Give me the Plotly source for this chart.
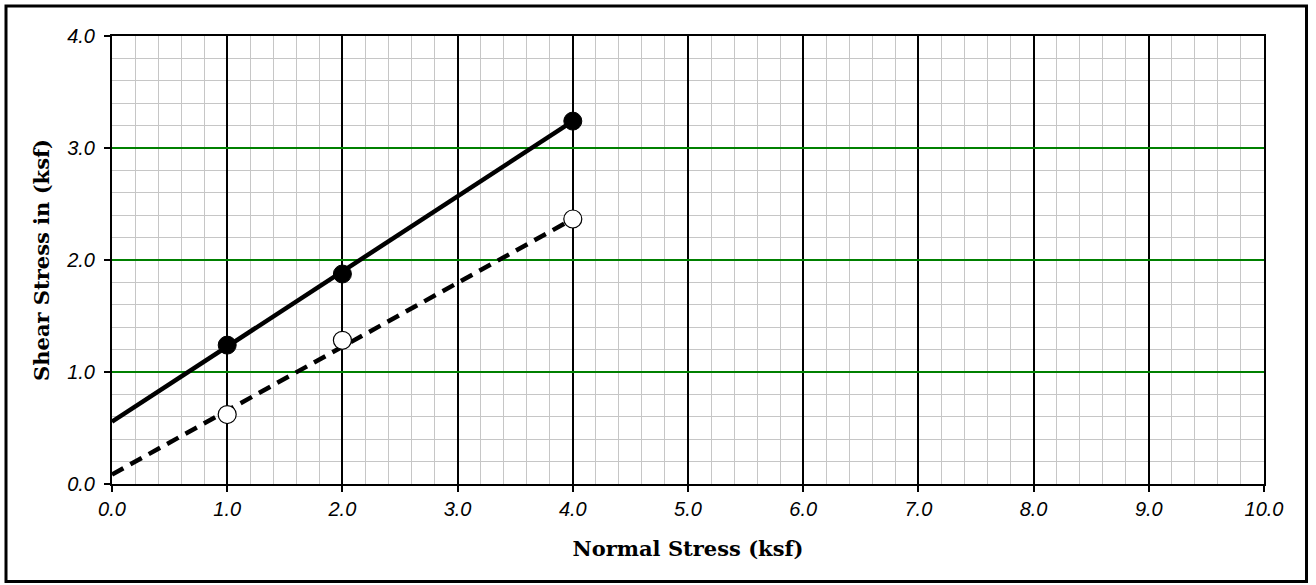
import plotly.graph_objects as go

# Data
normal_stress = [1.0, 2.0, 4.0]
peak_shear = [1.24, 1.875, 3.24]
residual_shear = [0.62, 1.283, 2.366]

# trend line end points (x = 0 and x = 4)
trend_x = [0.0, 4.0]
peak_trend_y = [0.556, 3.24]
residual_trend_y = [0.085, 2.366]

x_ticks = [0, 1, 2, 3, 4, 5, 6, 7, 8, 9, 10]
y_ticks = [0, 1, 2, 3, 4]

fig = go.Figure()

fig.add_trace(go.Scatter(x=trend_x, y=peak_trend_y, mode="lines",
                         line=dict(color="black", width=4.5), showlegend=False, hoverinfo="skip"))
fig.add_trace(go.Scatter(x=trend_x, y=residual_trend_y, mode="lines",
                         line=dict(color="black", width=4.5, dash="13px,8px"), showlegend=False, hoverinfo="skip"))
fig.add_trace(go.Scatter(x=normal_stress, y=peak_shear, mode="markers",
                         marker=dict(color="black", size=18, line=dict(color="black", width=1)),
                         showlegend=False))
fig.add_trace(go.Scatter(x=normal_stress, y=residual_shear, mode="markers",
                         marker=dict(color="white", size=18, line=dict(color="black", width=1.2)),
                         showlegend=False))

tickfont = dict(family="Liberation Sans, Arial", size=20, style="italic", color="black")
titlefont = dict(family="DejaVu Serif", size=21, weight="bold", color="black")

fig.update_layout(
    width=1316, height=585,
    margin=dict(l=112, r=52, t=36, b=101),
    paper_bgcolor="white", plot_bgcolor="white",
    xaxis=dict(range=[0, 10], tickvals=x_ticks, tickformat=".1f",
               showgrid=True, gridcolor="black", gridwidth=2,
               minor=dict(dtick=0.2, showgrid=True, gridcolor="#c6c6c6", gridwidth=1),
               showline=True, linecolor="black", linewidth=2, mirror=True,
               ticks="outside", ticklen=6, tickwidth=2, tickcolor="black",
               tickfont=tickfont, zeroline=False,
               title=dict(text="Normal Stress (ksf)", font=titlefont, standoff=22)),
    yaxis=dict(range=[0, 4], tickvals=y_ticks, tickformat=".1f",
               showgrid=True, gridcolor="#008000", gridwidth=2,
               minor=dict(dtick=0.2, showgrid=True, gridcolor="#c6c6c6", gridwidth=1),
               showline=True, linecolor="black", linewidth=2, mirror=True,
               ticks="outside", ticklen=6, tickwidth=2, tickcolor="black",
               tickfont=tickfont, zeroline=False, ticklabelstandoff=5,
               title=dict(text="Shear Stress in (ksf)", font=titlefont, standoff=11)),
    shapes=[dict(type="rect", xref="paper", yref="paper",
                 x0=(6 - 112) / 1152, x1=(1306.5 - 112) / 1152,
                 y0=(484 - 581.5) / 448, y1=(484 - 6) / 448,
                 line=dict(color="black", width=3), fillcolor="rgba(0,0,0,0)", layer="above")],
)

fig.write_html("out.html")
